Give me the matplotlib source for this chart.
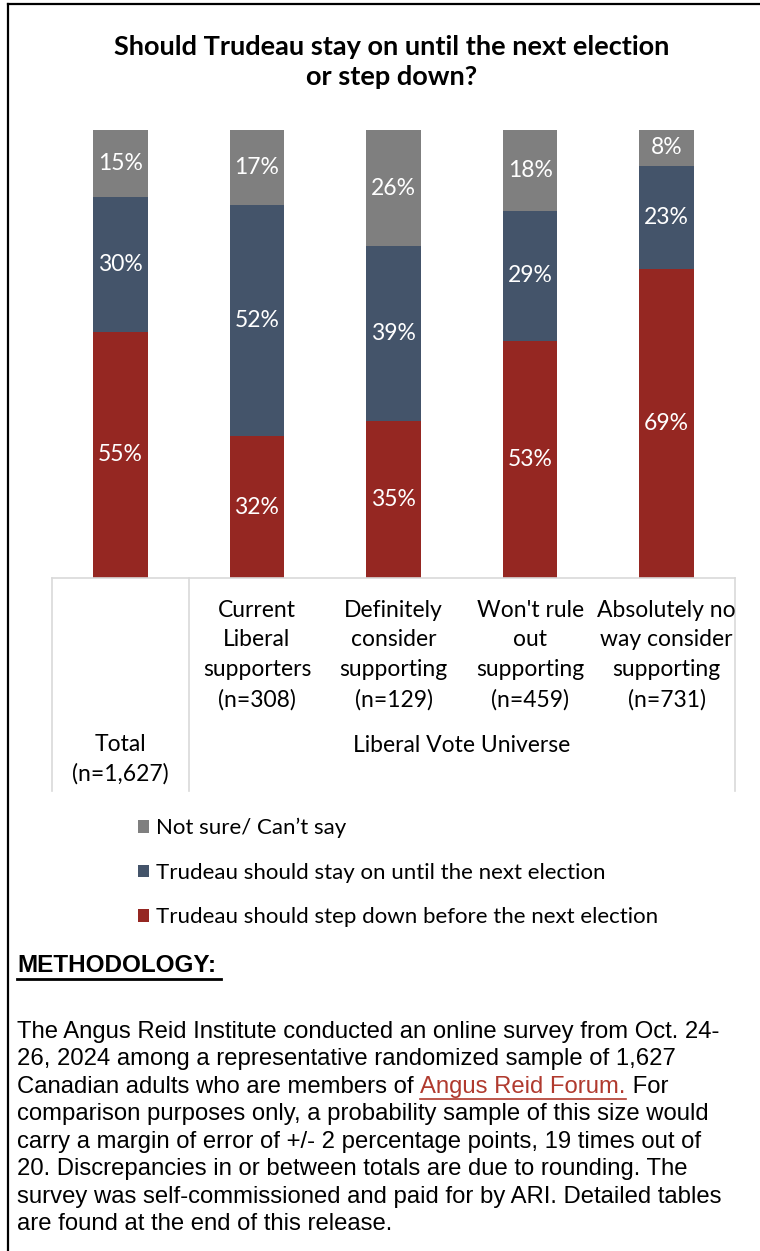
import matplotlib
matplotlib.use("Agg")
import matplotlib.pyplot as plt
from matplotlib.lines import Line2D
from matplotlib.patches import Patch
import numpy as np

W, H = 760, 1251

groups = ["Total\n(n=1,627)",
          "Current\nLiberal\nsupporters\n(n=308)",
          "Definitely\nconsider\nsupporting\n(n=129)",
          "Won't rule\nout\nsupporting\n(n=459)",
          "Absolutely no\nway consider\nsupporting\n(n=731)"]
step_down = [55, 32, 35, 53, 69]
stay_on = [30, 52, 39, 29, 23]
not_sure = [15, 17, 26, 18, 8]

series_names = ["Trudeau should step down before the next election",
                "Trudeau should stay on until the next election",
                "Not sure/ Can\u2019t say"]
colors = ["#952722", "#44546A", "#7F7F7F"]

LABEL_FONT = "Lato"
BODY_FONT = "Liberation Sans"


def fx(px):
    return px / W


def fy(py):
    return 1 - py / H


fig = plt.figure(figsize=(W / 100, H / 100), dpi=100)

# page frame (left + top rule)
fig.add_artist(Line2D([fx(8), fx(8)], [fy(4), fy(H)], color="black", lw=1.6))
fig.add_artist(Line2D([fx(8), fx(W)], [fy(4), fy(4)], color="black", lw=1.6))

fig.text(fx(392), fy(62), "Should Trudeau stay on until the next election\nor step down?",
         ha="center", va="center", fontsize=19.5, fontweight="bold",
         family=LABEL_FONT, linespacing=1.3)

# 100% stacked bars
ax = fig.add_axes([fx(52), fy(578), fx(735) - fx(52), fy(130) - fy(578)])
x = np.arange(len(groups))
data = np.array([step_down, stay_on, not_sure], dtype=float)
shares = data / data.sum(axis=0) * 100
bottom = np.zeros(len(groups))
for vals, shr, col in zip(data, shares, colors):
    ax.bar(x, shr, bottom=bottom, width=0.4, color=col)
    for xi, b, s, v in zip(x, bottom, shr, vals):
        ax.text(xi, b + s / 2, f"{v:.0f}%", ha="center", va="center",
                color="white", fontsize=16.5, family=LABEL_FONT)
    bottom += shr

ax.set_xlim(-0.5, len(groups) - 0.5)
ax.set_ylim(0, 100)
for side in ["top", "right", "left"]:
    ax.spines[side].set_visible(False)
ax.spines["bottom"].set_color("#D9D9D9")
ax.spines["bottom"].set_linewidth(1.2)
ax.set_xticks([])
ax.set_yticks([])

# category table below the bars
xt = ax.get_xaxis_transform()
for xv in [-0.5, 0.5, len(groups) - 0.5]:
    ax.plot([xv, xv], [0, -0.475], transform=xt, color="#D9D9D9", lw=1.2, clip_on=False)

for i, g in enumerate(groups):
    yy = -0.405 if i == 0 else -0.172
    ax.text(i, yy, g, transform=xt, ha="center", va="center", fontsize=16.5,
            family=LABEL_FONT, linespacing=1.5)
ax.text(2.5, -0.375, "Liberal Vote Universe", transform=xt, ha="center", va="center",
        fontsize=16.5, family=LABEL_FONT)

# legend
handles = [Patch(facecolor=c, edgecolor="none") for c in colors][::-1]
fig.legend(handles, series_names[::-1], loc="upper left",
           bbox_to_anchor=(fx(118), fy(798)), frameon=False,
           prop={"family": LABEL_FONT, "size": 16},
           handlelength=0.5, handleheight=0.5, handletextpad=0.3,
           labelspacing=1.1)

# methodology note
fig.text(fx(17), fy(965), "METHODOLOGY:", ha="left", va="center",
         fontsize=17.5, fontweight="bold", family=BODY_FONT)
fig.add_artist(Line2D([fx(17), fx(221)], [fy(979), fy(979)], color="black", lw=2))

body = ["The Angus Reid Institute conducted an online survey from Oct. 24-",
        "26, 2024 among a representative randomized sample of 1,627",
        None,
        "comparison purposes only, a probability sample of this size would",
        "carry a margin of error of +/- 2 percentage points, 19 times out of",
        "20. Discrepancies in or between totals are due to rounding. The",
        "survey was self-commissioned and paid for by ARI. Detailed tables",
        "are found at the end of this release."]
line_y = [1032, 1059, 1087, 1114, 1142, 1169, 1197, 1224]
style = dict(ha="left", va="center", fontsize=17.2, family=BODY_FONT)
renderer = fig.canvas.get_renderer()
for txt, yy in zip(body, line_y):
    if txt is not None:
        fig.text(fx(17), fy(yy), txt, **style)
        continue
    # line with the forum link
    t1 = fig.text(fx(17), fy(yy), "Canadian adults who are members of ", **style)
    x1 = t1.get_window_extent(renderer).x1
    t2 = fig.text(x1 / W, fy(yy), "Angus Reid Forum.", color="#B03A2E", **style)
    bb = t2.get_window_extent(renderer)
    fig.add_artist(Line2D([bb.x0 / W, bb.x1 / W], [fy(yy + 12)] * 2, color="#B03A2E", lw=1.2))
    fig.text(bb.x1 / W, fy(yy), " For", **style)

fig.savefig("out.png", dpi=100)
